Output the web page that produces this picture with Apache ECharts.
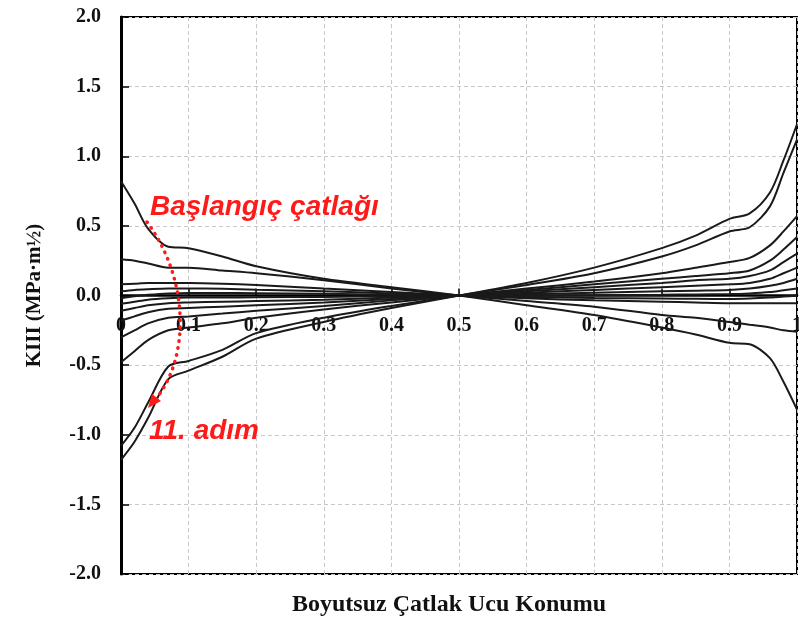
<!DOCTYPE html>
<html>
<head>
<meta charset="utf-8">
<script src="https://cdn.jsdelivr.net/npm/echarts/dist/echarts.min.js"></script>
<style>
  html, body { margin: 0; padding: 0; background: #fff; }
  #main { width: 799px; height: 621px; }
</style>
</head>
<body>
<div id="main"></div>
<script>
// crack front positions (dimensionless)
const xPos = [0, 0.02, 0.04, 0.07, 0.1, 0.15, 0.2, 0.3, 0.4, 0.5, 0.6, 0.7, 0.8, 0.85, 0.9, 0.93, 0.96, 0.98, 1.0];

// KIII along the front, initial crack and steps 1..11
const kInitial = [0.82, 0.66, 0.48, 0.35, 0.34, 0.28, 0.21, 0.12, 0.06, 0, -0.07, -0.14, -0.23, -0.28, -0.34, -0.35, -0.45, -0.62, -0.82];
const kStep1 = [0.26, 0.25, 0.23, 0.2, 0.2, 0.18, 0.16, 0.11, 0.05, 0, -0.04, -0.08, -0.14, -0.16, -0.19, -0.21, -0.23, -0.25, -0.26];
const kStep2 = [0.08, 0.085, 0.09, 0.09, 0.09, 0.085, 0.075, 0.05, 0.025, 0, -0.02, -0.035, -0.045, -0.05, -0.055, -0.055, -0.055, -0.055, -0.055];
const kStep3 = [0.03, 0.04, 0.045, 0.05, 0.05, 0.048, 0.042, 0.03, 0.015, 0, -0.01, -0.018, -0.022, -0.024, -0.025, -0.022, -0.015, -0.008, 0];
const kStep4 = [-0.02, -0.005, 0.005, 0.015, 0.018, 0.018, 0.016, 0.012, 0.006, 0, 0, 0.002, 0.005, 0.008, 0.01, 0.015, 0.025, 0.038, 0.05];
const kStep5 = [-0.06, -0.045, -0.03, -0.02, -0.015, -0.014, -0.013, -0.01, -0.005, 0, 0.01, 0.02, 0.03, 0.035, 0.04, 0.05, 0.07, 0.09, 0.12];
const kStep6 = [-0.11, -0.09, -0.07, -0.055, -0.05, -0.045, -0.04, -0.03, -0.015, 0, 0.02, 0.04, 0.06, 0.07, 0.08, 0.09, 0.12, 0.16, 0.2];
const kStep7 = [-0.18, -0.15, -0.12, -0.095, -0.09, -0.08, -0.07, -0.05, -0.025, 0, 0.03, 0.06, 0.09, 0.11, 0.12, 0.14, 0.18, 0.24, 0.3];
const kStep8 = [-0.3, -0.25, -0.2, -0.16, -0.15, -0.13, -0.11, -0.075, -0.035, 0, 0.04, 0.08, 0.12, 0.14, 0.16, 0.18, 0.25, 0.33, 0.42];
const kStep9 = [-0.48, -0.4, -0.32, -0.25, -0.23, -0.2, -0.16, -0.1, -0.05, 0, 0.05, 0.1, 0.16, 0.2, 0.24, 0.27, 0.36, 0.46, 0.57];
const kStep10 = [-1.08, -0.95, -0.77, -0.51, -0.47, -0.39, -0.27, -0.16, -0.075, 0, 0.075, 0.16, 0.28, 0.36, 0.46, 0.49, 0.64, 0.88, 1.12];
const kStep11 = [-1.18, -1.05, -0.88, -0.6, -0.54, -0.44, -0.31, -0.19, -0.09, 0, 0.09, 0.2, 0.34, 0.43, 0.55, 0.59, 0.74, 0.97, 1.23];

const yTickLabels = ['-2.0', '-1.5', '-1.0', '-0.5', '0.0', '0.5', '1.0', '1.5', '2.0'];
const xTickLabels = ['0', '0.1', '0.2', '0.3', '0.4', '0.5', '0.6', '0.7', '0.8', '0.9', '1'];

const allSteps = [kInitial, kStep1, kStep2, kStep3, kStep4, kStep5, kStep6, kStep7, kStep8, kStep9, kStep10, kStep11];

var myChart = echarts.init(document.getElementById('main'));

const serif = '"Liberation Serif", "DejaVu Serif", serif';
const red = '#ff1a1a';
// plot height 557px, y range symmetric -> zero line sits half way up
const zeroOffset = -278.5;

myChart.setOption({
  animation: false,
  grid: {
    left: 121, right: 2, top: 17, bottom: 47,
    outerBoundsMode: 'none',
    show: true, borderColor: '#000', borderWidth: 2
  },
  xAxis: {
    type: 'value', min: 0, max: 1, interval: 0.1,
    position: 'bottom',
    offset: zeroOffset,
    axisLine: { onZero: false, lineStyle: { color: '#000', width: 2.5 } },
    axisTick: { inside: true, length: 7, lineStyle: { color: '#000', width: 1.5 } },
    axisLabel: {
      margin: 20, fontFamily: serif, fontWeight: 'bold', fontSize: 20, color: '#111',
      formatter: (v) => xTickLabels[Math.round(v * 10)]
    },
    splitLine: { show: true, lineStyle: { color: '#c8c8c8', type: [4, 3], width: 1 } }
  },
  yAxis: {
    type: 'value', min: -2, max: 2, interval: 0.5,
    name: 'KIII (MPa·m½)',
    nameLocation: 'middle',
    nameGap: 76,
    nameTextStyle: { fontFamily: serif, fontWeight: 'bold', fontSize: 21, color: '#111' },
    axisLine: { show: true, lineStyle: { color: '#000', width: 3 } },
    axisTick: { inside: true, length: 8, lineStyle: { color: '#000', width: 1.5 } },
    axisLabel: {
      margin: 20, fontFamily: serif, fontWeight: 'bold', fontSize: 20, color: '#111',
      formatter: (v) => yTickLabels[Math.round((v + 2) * 2)]
    },
    splitLine: { show: true, lineStyle: { color: '#c8c8c8', type: [4, 3], width: 1 } }
  },
  series: allSteps.map((vals, i) => ({
    type: 'line',
    name: i === 0 ? 'Başlangıç' : i + '. adım',
    data: xPos.map((x, j) => [x, vals[j]]),
    showSymbol: false,
    smooth: 0.3,
    lineStyle: { color: '#1a1a1a', width: 2 },
    z: 3
  })),
  graphic: [
    {
      type: 'text', x: 449, y: 605, z: 10,
      style: { text: 'Boyutsuz Çatlak Ucu Konumu', fill: '#111', font: 'bold 24px "Liberation Serif", serif', textAlign: 'center', textVerticalAlign: 'middle' }
    },
    {
      type: 'text', x: 150, y: 207, z: 10,
      style: { text: 'Başlangıç çatlağı', fill: red, font: 'italic bold 28px "Liberation Sans", Arial, sans-serif', textVerticalAlign: 'middle' }
    },
    {
      type: 'text', x: 149, y: 431, z: 10,
      style: { text: '11. adım', fill: red, font: 'italic bold 28px "Liberation Sans", Arial, sans-serif', textVerticalAlign: 'middle' }
    },
    {
      type: 'bezierCurve', z: 10,
      shape: { x1: 147, y1: 222, cpx1: 190, cpy1: 280, cpx2: 190, cpy2: 360, x2: 154, y2: 401 },
      style: { stroke: red, lineWidth: 3.5, lineDash: [0.5, 6.5], lineCap: 'round', fill: null }
    },
    {
      type: 'polygon', z: 10,
      shape: { points: [[148, 408], [161, 401], [152, 394]] },
      style: { fill: red }
    }
  ]
});
</script>
</body>
</html>
